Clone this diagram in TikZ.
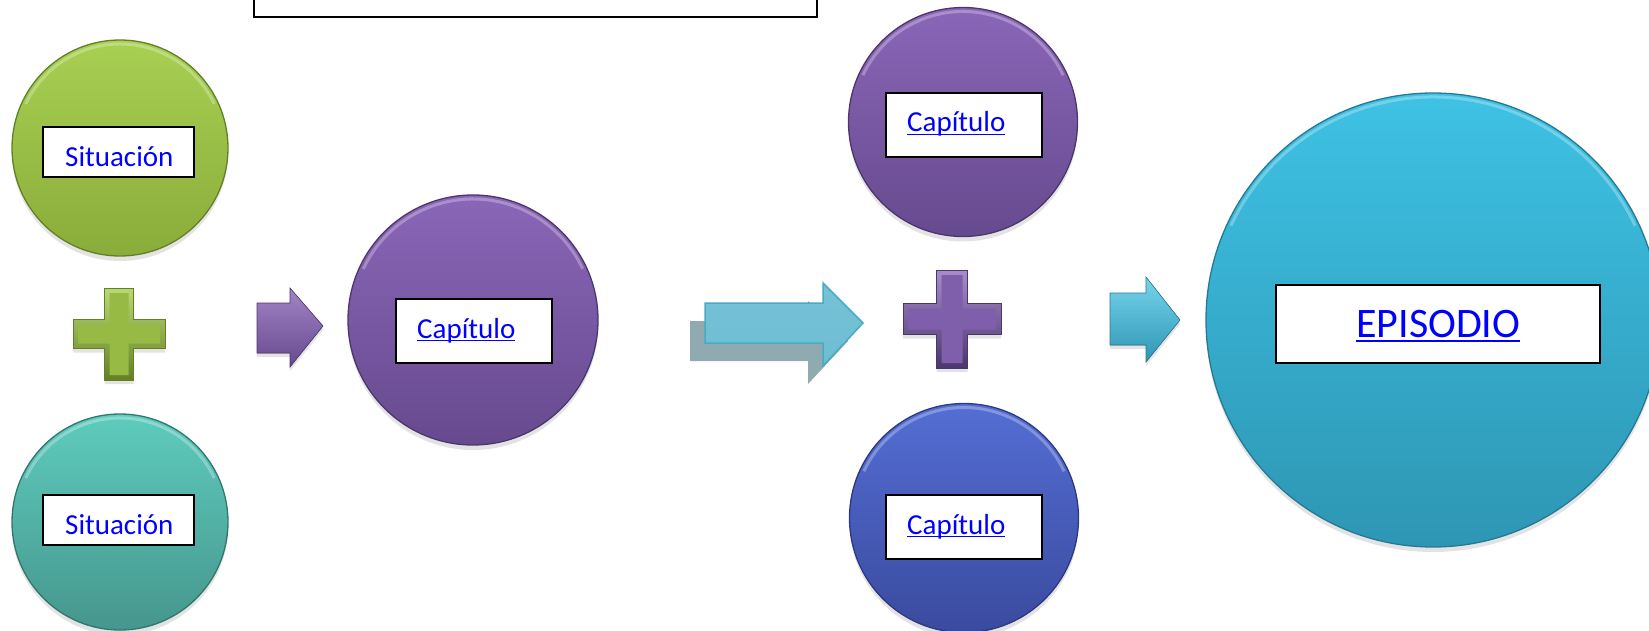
\documentclass[tikz,border=0pt]{standalone}
\usepackage{fontspec}
\setmainfont{Carlito}
\usetikzlibrary{shadows}

% colores
\definecolor{verdeA}{RGB}{168,208,82}
\definecolor{verdeB}{RGB}{138,172,58}
\definecolor{verdeC}{RGB}{100,128,38}
\definecolor{turqA}{RGB}{94,204,190}
\definecolor{turqB}{RGB}{70,150,140}
\definecolor{turqC}{RGB}{50,118,110}
\definecolor{moradoA}{RGB}{138,102,184}
\definecolor{moradoB}{RGB}{102,74,142}
\definecolor{moradoC}{RGB}{76,54,110}
\definecolor{azulA}{RGB}{84,110,212}
\definecolor{azulB}{RGB}{58,74,158}
\definecolor{azulC}{RGB}{44,56,128}
\definecolor{celesteA}{RGB}{62,194,228}
\definecolor{celesteB}{RGB}{46,150,180}
\definecolor{celesteC}{RGB}{36,122,148}
\definecolor{flechaA}{RGB}{118,194,214}
\definecolor{flechaB}{RGB}{72,170,196}
\definecolor{sombraFlecha}{RGB}{143,170,177}

% texto subrayado de enlace
\newcommand{\enlace}[1]{\setbox0=\hbox{#1}\rlap{\rule[-0.12em]{\wd0}{0.055em}}\box0}

% cruz: x, y, mitad, medio brazo, estilo
\newcommand{\cruz}[5]{%
  \path[#5] ({#1-#4},{#2-#3}) -- ({#1+#4},{#2-#3}) -- ({#1+#4},{#2-#4}) -- ({#1+#3},{#2-#4})
    -- ({#1+#3},{#2+#4}) -- ({#1+#4},{#2+#4}) -- ({#1+#4},{#2+#3}) -- ({#1-#4},{#2+#3})
    -- ({#1-#4},{#2+#4}) -- ({#1-#3},{#2+#4}) -- ({#1-#3},{#2-#4}) -- ({#1-#4},{#2-#4}) -- cycle;}

\begin{document}
\begin{tikzpicture}[x=1pt, y=-1pt,
  circulo/.style={circle, inner sep=0pt, line width=1.3pt,
    drop shadow={shadow xshift=0pt, shadow yshift=-5pt, opacity=0.22}},
  caja/.style={draw=black, line width=2pt, fill=white, inner sep=0pt},
  etiqueta/.style={anchor=base west, inner sep=0pt, text=blue,
    font=\fontsize{29pt}{34pt}\selectfont},
  brillo/.style={white, opacity=0.28, line width=3pt},
  sombra/.style={drop shadow={shadow xshift=0pt, shadow yshift=-4pt, opacity=0.22}}]

  \useasboundingbox (0,0) rectangle (1649,631);
  \clip (0,0) rectangle (1649,631);

  % recuadro superior (cortado)
  \node[caja, minimum width=563pt, minimum height=50pt] (titulo) at (535.5,-8) {};

  % situaciones
  \node[circulo, minimum size=216pt, top color=verdeA, bottom color=verdeB, draw=verdeC] (sitVerde) at (120,148) {};
  \node[circulo, minimum size=216pt, top color=turqA, bottom color=turqB, draw=turqC] (sitTurq) at (120,522) {};

  % mas verde
  \cruz{119}{334}{46}{14.5}{sombra, top color=verdeA!80!white, bottom color=verdeC, draw=verdeC, line width=0.6pt}
  \cruz{119}{334}{41}{9.5}{fill=verdeB!60!verdeA}

  % flecha morada
  \fill[sombra, top color=moradoA!80!white, bottom color=moradoB, draw=moradoC, line width=0.6pt]
    (257,303) -- (290,303) -- (290,288) -- (323,326) -- (290,367) -- (290,353) -- (257,353) -- cycle;

  % capitulo central
  \node[circulo, minimum size=250pt, top color=moradoA, bottom color=moradoB, draw=moradoC] (capMedio) at (473,320) {};

  % flecha grande con sombra
  \fill[sombraFlecha]
    (690,321) -- (808,321) -- (808,301) -- (848,341) -- (808,384) -- (808,361) -- (690,361) -- cycle;
  \fill[top color=flechaA, middle color=flechaB, bottom color=flechaA!80!flechaB, draw=flechaB, line width=1.5pt]
    (705,303) -- (823,303) -- (823,283) -- (863,323) -- (823,366) -- (823,343) -- (705,343) -- cycle;

  % mas morado
  \cruz{952}{319}{49}{15.5}{sombra, top color=moradoA!75!white, bottom color=moradoC, draw=moradoC, line width=0.6pt}
  \cruz{952}{319}{44}{10.5}{fill=moradoA!70!moradoB}

  % capitulos derecha
  \node[circulo, minimum size=229pt, top color=moradoA, bottom color=moradoB, draw=moradoC] (capArriba) at (963,122) {};
  \node[circulo, minimum size=229pt, top color=azulA, bottom color=azulB, draw=azulC] (capAbajo) at (964,518) {};

  % flecha celeste
  \fill[sombra, top color=celesteA!70!white, bottom color=celesteB, draw=celesteC, line width=0.6pt]
    (1110,293) -- (1146,293) -- (1146,277) -- (1180,320) -- (1146,362) -- (1146,345) -- (1110,345) -- cycle;

  % episodio
  \node[circulo, minimum size=454pt, top color=celesteA, bottom color=celesteB, draw=celesteC] (episodio) at (1433,320) {};

  % brillo superior de los circulos
  \foreach \c/\r in {sitVerde/108, sitTurq/108, capMedio/125, capArriba/114.5, capAbajo/114.5, episodio/227}
    \draw[brillo] (\c.center) ++({(\r-4)*cos(205)},{(\r-4)*sin(205)})
      arc[start angle=205, end angle=335, radius=\r-4];

  % recuadros y textos
  \node[caja, minimum width=151pt, minimum height=50pt] (cajaSitA) at (118.5,152) {};
  \node[etiqueta] (txtSitA) at (65,167) {Situación};
  \node[caja, minimum width=151pt, minimum height=50pt] (cajaSitB) at (118.5,520) {};
  \node[etiqueta] (txtSitB) at (65,534) {Situación};

  \node[caja, minimum width=156pt, minimum height=64pt] (cajaCapM) at (474,331) {};
  \node[etiqueta] (txtCapM) at (417,338) {\enlace{Capítulo}};
  \node[caja, minimum width=156pt, minimum height=64pt] (cajaCapA) at (964,125) {};
  \node[etiqueta] (txtCapA) at (907,132) {\enlace{Capítulo}};
  \node[caja, minimum width=156pt, minimum height=64pt] (cajaCapB) at (964,527) {};
  \node[etiqueta] (txtCapB) at (907,534) {\enlace{Capítulo}};

  \node[caja, minimum width=324pt, minimum height=78pt] (cajaEpi) at (1438,324) {};
  \node[etiqueta, font=\fontsize{42pt}{48pt}\selectfont] (txtEpi) at (1356,337) {\enlace{EPISODIO}};

\end{tikzpicture}
\end{document}
